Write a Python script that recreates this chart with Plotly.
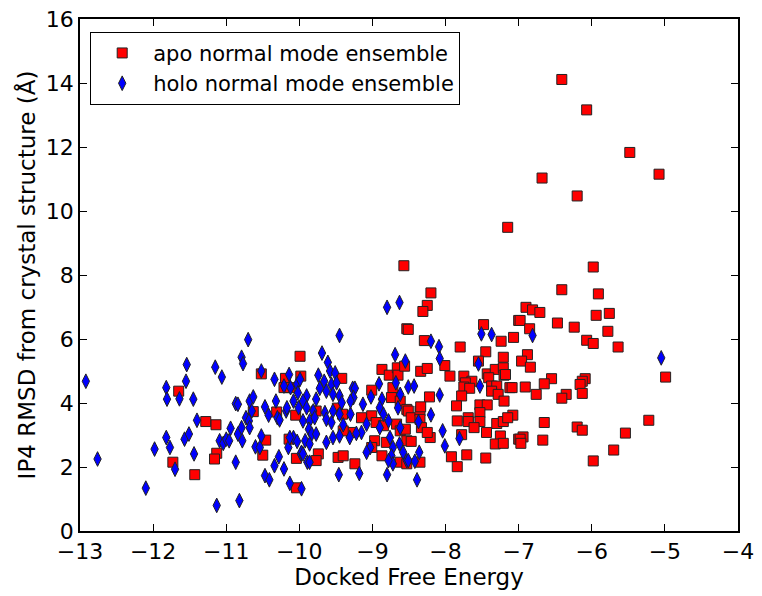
import plotly.graph_objects as go

# holo normal mode ensemble (blue diamonds)
holo_energy = [
    -12.92, -12.76, -12.10, -11.98, -11.82, -11.81, -11.82, -11.77, -11.70, -11.64,
    -11.55, -11.54, -11.45, -11.57, -11.51, -11.44, -11.40, -11.15, -11.06, -11.13,
    -10.82, -10.70, -10.79, -10.77, -10.87, -10.84, -10.94, -11.09, -11.04, -11.00,
    -10.96, -10.87, -10.84, -10.79, -10.78, -10.73, -10.69, -10.68, -10.68, -10.63,
    -10.65, -10.60, -10.54, -10.52, -10.52, -10.47, -10.42, -10.47, -10.41, -10.34,
    -10.32, -10.30, -10.27, -10.28, -10.34, -10.21, -10.13, -10.15, -10.21, -10.14,
    -10.12, -10.18, -10.08, -10.03, -9.99, -9.97, -10.01, -10.08, -10.03, -9.98,
    -9.89, -10.02, -10.13, -9.97, -10.17,
    -8.80, -8.63, -9.45, -9.69, -9.61, -9.74, -9.58, -9.51, -9.66, -9.56,
    -9.49, -9.72, -9.63, -9.54, -9.45, -9.42, -9.77, -9.90, -9.95, -9.90,
    -9.81, -9.65, -9.54, -9.45, -9.63, -9.56, -9.95, -9.86, -9.79, -9.87,
    -9.83, -9.77, -9.92, -9.86, -9.63, -9.54, -9.45, -9.40, -9.30, -9.27,
    -9.24, -9.26, -9.30, -9.13, -9.08, -9.15, -9.22, -9.31, -9.03, -9.08,
    -9.95, -9.86, -9.46, -9.18, -8.80, -9.02, -8.91, -8.87, -8.90, -8.85,
    -8.90, -8.78, -8.76, -8.69, -8.55, -8.68, -8.62, -8.65, -8.62, -8.72,
    -8.63, -8.74, -8.72, -8.58, -8.53, -8.78,
    -8.20, -8.09, -8.08, -7.51, -7.37, -7.55, -7.53, -8.51, -8.43, -8.08,
    -8.20, -8.37, -8.04, -8.01, -7.81, -8.36, -8.51, -8.42, -8.39, -6.81,
    -5.05,
]
holo_rmsd = [
    4.68, 2.25, 1.34, 2.56, 4.48, 4.12, 2.92, 2.61, 1.93, 4.13,
    4.68, 5.20, 4.12, 2.87, 3.03, 2.41, 3.46, 5.12, 4.81, 0.80,
    0.95, 5.98, 5.43, 5.23, 3.98, 3.96, 3.21, 2.82, 2.74, 2.87,
    2.82, 2.15, 3.03, 3.23, 2.82, 3.54, 3.44, 3.23, 4.06, 4.19,
    3.75, 2.63, 2.61, 2.97, 5.00, 3.88, 3.62, 1.73, 1.60, 4.74,
    4.06, 3.54, 3.47, 2.32, 2.04, 1.94, 1.49, 2.61, 4.53, 4.89,
    4.48, 3.75, 4.06, 4.59, 4.74, 1.32, 3.85, 2.92, 2.80, 2.41,
    2.15, 4.32, 2.92, 2.46, 3.85,
    6.99, 7.14, 6.11, 5.56, 5.27, 4.87, 5.00, 4.94, 4.68, 4.58,
    4.63, 4.46, 4.37, 4.27, 4.22, 4.01, 4.12, 4.22, 4.06, 3.85,
    3.75, 3.70, 3.75, 3.65, 3.49, 3.39, 3.44, 3.44, 3.54, 3.18,
    3.03, 3.03, 2.82, 2.72, 2.77, 2.92, 2.97, 3.32, 3.65, 4.46,
    4.46, 4.17, 4.06, 3.96, 3.34, 3.08, 3.05, 2.92, 2.61, 2.46,
    2.41, 2.15, 1.76, 1.80, 1.76, 4.19, 4.60, 4.12, 3.85, 3.65,
    3.23, 3.44, 2.92, 5.51, 5.31, 4.63, 4.27, 3.85, 3.23, 2.61,
    2.72, 2.35, 2.10, 2.46, 2.20, 2.20,
    5.93, 5.76, 5.39, 6.16, 6.14, 5.22, 4.53, 4.50, 4.53, 4.25,
    3.63, 3.42, 3.13, 2.66, 2.89, 2.46, 2.20, 2.18, 1.60, 6.11,
    5.41,
]

# apo normal mode ensemble (red squares)
apo_energy = [
    -11.65, -11.73, -11.43, -11.28, -11.14, -11.13, -11.16, -10.52, -10.63, -10.46,
    -10.50, -10.31, -10.19, -10.21, -10.13, -10.05, -10.04, -10.04, -10.14, -9.99,
    -9.98,
    -8.53, -9.42, -8.87, -8.77, -8.66, -8.65, -9.01, -8.72, -8.74, -8.62,
    -8.53, -9.48, -9.41, -9.77, -9.15, -9.01, -8.95, -8.85, -8.67, -8.62,
    -8.55, -9.29, -9.40, -8.97, -8.81, -9.01, -8.53, -9.74, -9.77, -9.47,
    -9.40, -9.24, -8.87, -8.62, -8.53,
    -8.57, -8.20, -8.25, -8.31, -8.51, -8.29, -7.80, -7.48, -7.00, -7.07,
    -7.24, -7.45, -7.21, -7.55, -8.01, -8.34, -8.25, -7.94, -7.75, -7.64,
    -7.73, -7.75, -7.67, -7.78, -7.43, -7.32, -7.21, -7.20, -7.41, -7.37,
    -7.30, -7.12, -7.09, -7.37, -7.28, -7.20, -7.85, -7.53, -7.43, -7.53,
    -7.69, -7.69, -7.84, -7.53, -7.61, -7.44, -7.30, -7.21, -7.08, -7.15,
    -7.25, -7.32, -7.21, -7.00, -7.78, -7.92, -7.71, -7.84, -7.45, -8.22,
    -8.56, -8.51, -8.47, -8.35, -8.34, -8.35, -8.33, -8.21, -8.47, -8.35,
    -8.25,
    -6.41, -6.07, -5.48, -5.08, -6.68, -6.20, -7.15, -5.98, -6.41, -5.91,
    -6.90, -6.81, -6.71, -5.94, -5.76, -6.98, -6.47, -6.24, -6.85, -5.78,
    -6.07, -5.98, -5.64, -6.88, -6.96, -6.84, -7.18, -4.99, -6.55, -6.65,
    -6.09, -6.13, -6.16, -6.91, -6.76, -6.35, -6.41, -6.13, -5.22, -5.54,
    -5.70, -5.98, -6.65, -6.20, -6.13, -6.67, -6.94, -6.98, -6.97,
]
apo_rmsd = [
    4.37, 2.15, 1.76, 3.42, 3.32, 2.43, 2.25, 4.91, 3.73, 2.84,
    2.37, 3.72, 4.77, 4.48, 4.48, 3.62, 2.27, 1.35, 2.87, 5.46,
    4.84,
    6.32, 4.77, 5.05, 4.87, 5.10, 4.87, 4.40, 4.48, 4.17, 4.06,
    3.80, 3.84, 3.65, 3.75, 3.54, 3.60, 3.39, 3.29, 3.34, 3.13,
    3.18, 3.08, 3.13, 2.82, 2.77, 2.61, 2.82, 2.41, 2.20, 2.30,
    2.35, 2.10, 2.35, 2.15, 2.10,
    8.29, 7.44, 7.05, 6.86, 6.30, 5.95, 5.75, 6.45, 6.58, 6.05,
    5.93, 5.60, 5.43, 5.31, 5.17, 4.99, 5.08, 4.84, 4.84, 4.68,
    4.63, 4.50, 4.46, 4.22, 4.91, 5.05, 5.10, 4.87, 4.79, 4.53,
    4.53, 4.48, 4.48, 4.37, 4.27, 4.06, 3.91, 3.94, 3.94, 3.70,
    3.54, 3.42, 3.44, 3.42, 3.23, 3.08, 3.36, 3.42, 3.62, 3.54,
    2.97, 2.72, 2.74, 2.87, 3.01, 2.32, 2.38, 2.01, 2.28, 4.19,
    5.15, 3.75, 3.54, 3.75, 3.88, 3.49, 3.23, 2.92, 2.80, 2.15,
    3.08,
    14.11, 13.16, 11.83, 11.15, 11.03, 10.47, 9.49, 8.25, 7.54, 7.41,
    6.99, 6.91, 6.83, 6.74, 6.80, 6.58, 6.50, 6.37, 6.32, 6.24,
    5.96, 5.86, 5.75, 5.51, 5.31, 5.12, 4.89, 4.81, 4.76, 4.60,
    4.76, 4.68, 4.58, 4.50, 4.27, 4.27, 4.15, 4.30, 3.46, 3.06,
    2.53, 2.19, 3.39, 3.25, 3.15, 2.84, 2.94, 2.87, 2.74,
]

x_ticks = [-13, -12, -11, -10, -9, -8, -7, -6, -5, -4]
y_ticks = [0, 2, 4, 6, 8, 10, 12, 14, 16]

fig = go.Figure()
fig.add_trace(go.Scatter(
    x=apo_energy, y=apo_rmsd, mode="markers", name="apo normal mode ensemble",
    marker=dict(symbol="square", size=10, color="#ff0000",
                line=dict(color="#222222", width=1)),
))
fig.add_trace(go.Scatter(
    x=holo_energy, y=holo_rmsd, mode="markers", name="holo normal mode ensemble",
    marker=dict(symbol="diamond-tall", size=10.5, color="#0000ff",
                line=dict(color="#222222", width=1)),
))

axis_common = dict(
    showgrid=False, zeroline=False, showline=True, linecolor="black", linewidth=1.5,
    mirror="allticks", ticks="inside", ticklen=7, tickwidth=1, tickcolor="black",
    tickfont=dict(size=22, color="black"), ticklabeloverflow="allow",
    automargin=False,
)
fig.update_layout(
    width=762, height=596,
    margin=dict(l=72, r=32, t=11, b=73),
    paper_bgcolor="white", plot_bgcolor="white",
    font=dict(family="DejaVu Sans", size=20, color="black"),
    xaxis=dict(range=[-13, -4], tickvals=x_ticks,
               title=dict(text="Docked Free Energy", font=dict(size=23), standoff=4),
               **axis_common),
    yaxis=dict(range=[0, 16], tickvals=y_ticks,
               title=dict(text="IP4 RMSD from crystal structure (Å)", font=dict(size=23), standoff=4),
               **axis_common),
    legend=dict(x=0.0155, y=0.975, xanchor="left", yanchor="top",
                bordercolor="black", borderwidth=1, bgcolor="white",
                font=dict(size=21, color="black"), itemwidth=52),
    showlegend=True,
)
fig.write_html("out.html")
